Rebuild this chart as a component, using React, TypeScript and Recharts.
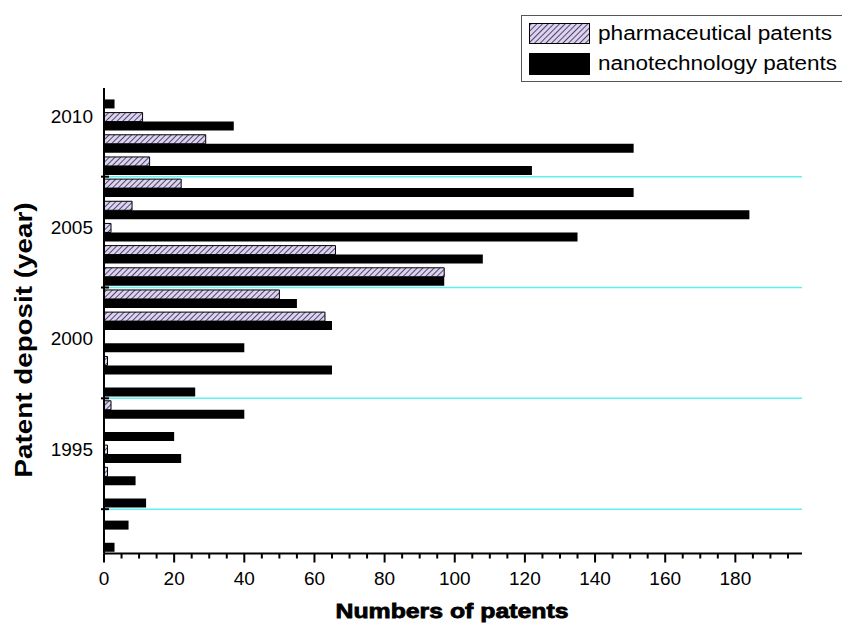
import { BarChart, Bar, XAxis, YAxis, ReferenceLine } from "recharts"

// years run top to bottom, as in the figure
const years = [
  2011, 2010, 2009, 2008, 2007, 2006, 2005, 2004, 2003, 2002, 2001, 2000,
  1999, 1998, 1997, 1996, 1995, 1994, 1993, 1992, 1991,
]
const pharmaceutical = [
  0, 11, 29, 13, 22, 8, 2, 66, 97, 50, 63, 0, 1, 0, 2, 0, 1, 1, 0, 0, 0,
]
const nanotechnology = [
  3, 37, 151, 122, 151, 184, 135, 108, 97, 55, 65, 40, 65, 26, 40, 20, 22, 9,
  12, 7, 3,
]
const yearLabels = [1995, 2000, 2005, 2010]
// grid lines sit on the lower edge of these years' bands
const boundaryYears = [1993, 1998, 2003, 2008]
const majorTicks = [0, 20, 40, 60, 80, 100, 120, 140, 160, 180]
const xTicks = Array.from({ length: 40 }, (_, i) => i * 5)

const data = years.map((year, i) => ({
  year,
  pharma: pharmaceutical[i],
  nano: nanotechnology[i],
}))

const FONT = '"Liberation Sans", Arial, sans-serif'
const LAVENDER = "#ddd2f5"

function XTick({ x, y, payload }: any) {
  const major = majorTicks.includes(payload.value)
  return (
    <g>
      <line x1={x} x2={x} y1={y} y2={y + (major ? 9 : 5)} stroke="#000" strokeWidth={2} />
      {major && (
        <text x={x} y={y + 31} textAnchor="middle" fontSize={19} fontFamily={FONT} fill="#000">
          {payload.value}
        </text>
      )}
    </g>
  )
}

function YearTick({ x, y, payload }: any) {
  if (!yearLabels.includes(payload.value)) return null
  return (
    <text x={x} y={y + 2} textAnchor="end" fontSize={19} fontFamily={FONT} fill="#000">
      {payload.value}
    </text>
  )
}

// cyan grid line plus the axis tick mark crossing the y axis
function BoundaryLine({ x1, y1, x2, y2 }: any) {
  return (
    <g>
      <line x1={x1} x2={x2} y1={y1} y2={y2} stroke="#5ff2f2" strokeWidth={1.5} />
      <line x1={x1 - 3} x2={x1 + 5} y1={y1} y2={y1} stroke="#000" strokeWidth={2} />
    </g>
  )
}

function LegendBox() {
  return (
    <svg
      width={842}
      height={90}
      style={{ position: "absolute", left: 0, top: 0 }}
    >
      <defs>
        <pattern
          id="hatchLegend"
          patternUnits="userSpaceOnUse"
          width={4}
          height={4}
          patternTransform="rotate(45)"
        >
          <rect width={4} height={4} fill={LAVENDER} />
          <line x1={0} y1={0} x2={0} y2={4} stroke="#000" strokeWidth={1.3} />
        </pattern>
      </defs>
      <rect x={521.5} y={15.5} width={340} height={66} fill="#fff" stroke="#555" strokeWidth={1} />
      <rect x={529.5} y={23.5} width={60} height={20} fill="url(#hatchLegend)" stroke="#000" strokeWidth={1} />
      <rect x={529} y={53} width={61} height={22} fill="#000" />
      <text x={598} y={40} fontSize={20} fontFamily={FONT} textLength={234} lengthAdjust="spacingAndGlyphs">
        pharmaceutical patents
      </text>
      <text x={598} y={70} fontSize={20} fontFamily={FONT} textLength={239} lengthAdjust="spacingAndGlyphs">
        nanotechnology patents
      </text>
    </svg>
  )
}

export default function App() {
  return (
    <div style={{ position: "relative", width: 842, height: 624, overflow: "hidden", background: "#fff" }}>
      <style>{"body{margin:0}"}</style>
      <BarChart
        width={842}
        height={624}
        data={data}
        layout="vertical"
        margin={{ top: 88, right: 40, bottom: 0, left: 0 }}
        barCategoryGap="11%"
        barGap={0}
      >
        <defs>
          <pattern
            id="hatch"
            patternUnits="userSpaceOnUse"
            width={4}
            height={4}
            patternTransform="rotate(45)"
          >
            <rect width={4} height={4} fill={LAVENDER} />
            <line x1={0} y1={0} x2={0} y2={4} stroke="#000" strokeWidth={1.3} />
          </pattern>
        </defs>
        <XAxis
          type="number"
          domain={[0, 199]}
          ticks={xTicks}
          interval={0}
          height={70.5}
          allowDataOverflow
          axisLine={{ stroke: "#000", strokeWidth: 2 }}
          tickLine={false}
          tickSize={0}
          tickMargin={0}
          tick={XTick}
        />
        <YAxis
          type="category"
          dataKey="year"
          width={104}
          interval={0}
          axisLine={{ stroke: "#000", strokeWidth: 2 }}
          tickLine={false}
          tickSize={0}
          tickMargin={11}
          tick={YearTick}
        />
        {boundaryYears.map((v) => (
          <ReferenceLine key={v} y={v} position="end" shape={BoundaryLine} />
        ))}
        <Bar
          dataKey="pharma"
          fill="url(#hatch)"
          stroke="#000"
          strokeWidth={1}
          isAnimationActive={false}
        />
        <Bar dataKey="nano" fill="#000" isAnimationActive={false} />
        <text
          transform="translate(32,340) rotate(-90)"
          textAnchor="middle"
          fontSize={23}
          fontWeight="bold"
          fontFamily={FONT}
          textLength={275}
          lengthAdjust="spacingAndGlyphs"
        >
          Patent deposit (year)
        </text>
        <text
          x={452}
          y={618}
          textAnchor="middle"
          fontSize={21}
          fontWeight="bold"
          fontFamily={FONT}
          stroke="#000"
          strokeWidth={0.8}
          textLength={233}
          lengthAdjust="spacingAndGlyphs"
        >
          Numbers of patents
        </text>
      </BarChart>
      <LegendBox />
    </div>
  )
}
